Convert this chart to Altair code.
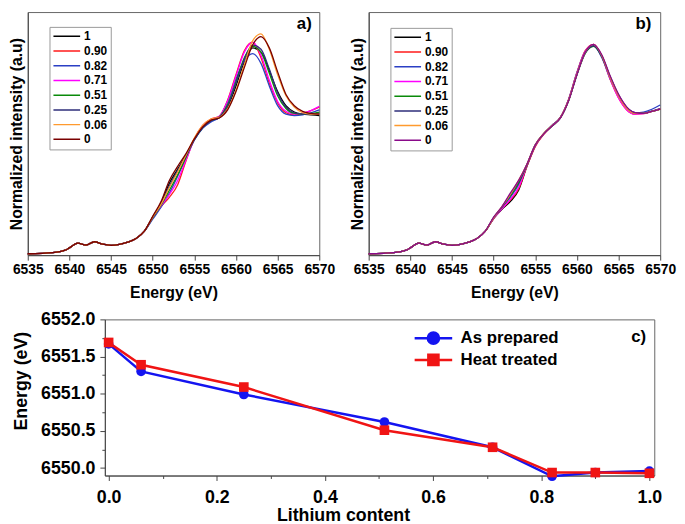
import altair as alt
import pandas as pd

FONT = "Liberation Sans"

# ---------------- XANES spectra (panels a and b) ----------------
energy = [6535, 6538, 6539.5, 6540, 6541, 6542, 6543, 6544, 6545, 6546, 6547, 6548, 6549,
          6550, 6551, 6552, 6553, 6554, 6555, 6556, 6557, 6558, 6559, 6560,
          6561, 6562, 6563, 6564, 6565, 6566, 6567, 6568, 6569, 6570]
pre_edge = [0.000, 0.008, 0.025, 0.042, 0.075, 0.062, 0.085, 0.068, 0.060, 0.066, 0.082, 0.108, 0.160]

samples = ["1", "0.90", "0.82", "0.71", "0.51", "0.25", "0.06", "0"]

# panel a (as prepared), values from 6550 to 6570 eV
a_1 = [0.26, 0.36, 0.50, 0.60, 0.70, 0.81, 0.895, 0.945, 0.965, 1.04, 1.19, 1.36, 1.46, 1.43, 1.30, 1.15, 1.05, 1.005, 0.99, 0.985, 0.98]
a_090 = [0.255, 0.335, 0.40, 0.49, 0.66, 0.815, 0.91, 0.955, 0.975, 1.09, 1.27, 1.44, 1.50, 1.39, 1.21, 1.07, 1.0, 0.985, 0.995, 1.015, 1.04]
a_082 = [0.245, 0.33, 0.43, 0.55, 0.68, 0.805, 0.89, 0.935, 0.97, 1.08, 1.24, 1.37, 1.42, 1.35, 1.19, 1.05, 0.99, 0.98, 0.985, 1.0, 1.02]
a_071 = [0.255, 0.34, 0.42, 0.52, 0.665, 0.81, 0.905, 0.95, 0.975, 1.085, 1.26, 1.43, 1.50, 1.41, 1.23, 1.08, 1.01, 0.99, 0.995, 1.015, 1.045]
a_051 = [0.255, 0.345, 0.45, 0.56, 0.685, 0.81, 0.895, 0.945, 0.97, 1.06, 1.22, 1.39, 1.47, 1.43, 1.28, 1.12, 1.03, 0.995, 0.99, 0.995, 1.005]
a_025 = [0.26, 0.355, 0.48, 0.59, 0.695, 0.81, 0.895, 0.945, 0.968, 1.05, 1.21, 1.38, 1.48, 1.45, 1.31, 1.14, 1.04, 1.0, 0.99, 0.99, 0.995]
a_006 = [0.26, 0.35, 0.47, 0.58, 0.70, 0.82, 0.91, 0.955, 0.968, 1.03, 1.16, 1.34, 1.51, 1.56, 1.45, 1.27, 1.12, 1.04, 1.0, 0.99, 0.99]
a_0 = [0.265, 0.37, 0.52, 0.62, 0.71, 0.815, 0.9, 0.948, 0.963, 1.02, 1.15, 1.32, 1.48, 1.54, 1.46, 1.29, 1.13, 1.05, 1.01, 0.995, 0.99]

# panel b (heat treated), values from 6550 to 6570 eV
b_1 = [0.25, 0.315, 0.37, 0.45, 0.62, 0.765, 0.85, 0.91, 0.965, 1.09, 1.275, 1.43, 1.475, 1.40, 1.25, 1.12, 1.03, 0.995, 0.995, 1.01, 1.025]
b_090 = [0.25, 0.32, 0.38, 0.46, 0.62, 0.76, 0.845, 0.905, 0.965, 1.095, 1.285, 1.44, 1.485, 1.395, 1.235, 1.105, 1.02, 0.99, 0.993, 1.01, 1.025]
b_082 = [0.255, 0.325, 0.40, 0.49, 0.63, 0.77, 0.85, 0.91, 0.965, 1.095, 1.285, 1.435, 1.475, 1.39, 1.24, 1.115, 1.035, 1.0, 1.005, 1.025, 1.055]
b_071 = [0.25, 0.32, 0.385, 0.47, 0.625, 0.765, 0.848, 0.907, 0.963, 1.09, 1.28, 1.435, 1.485, 1.40, 1.24, 1.105, 1.02, 0.99, 0.993, 1.01, 1.03]
b_051 = [0.255, 0.33, 0.41, 0.50, 0.63, 0.77, 0.85, 0.905, 0.962, 1.085, 1.27, 1.42, 1.47, 1.40, 1.255, 1.125, 1.035, 0.995, 0.995, 1.01, 1.025]
b_025 = [0.255, 0.33, 0.42, 0.51, 0.635, 0.77, 0.85, 0.905, 0.962, 1.085, 1.27, 1.425, 1.475, 1.40, 1.25, 1.125, 1.035, 1.0, 0.997, 1.012, 1.03]
b_006 = [0.255, 0.335, 0.42, 0.52, 0.635, 0.772, 0.852, 0.908, 0.963, 1.088, 1.275, 1.43, 1.485, 1.405, 1.25, 1.12, 1.03, 0.995, 0.995, 1.01, 1.025]
b_0 = [0.26, 0.335, 0.43, 0.52, 0.635, 0.772, 0.85, 0.906, 0.962, 1.085, 1.27, 1.43, 1.485, 1.41, 1.26, 1.13, 1.04, 1.0, 0.995, 1.01, 1.025]

colors_a = ["#000000", "#ff1a1a", "#2b3fc4", "#ff00ff", "#0a8a0a", "#2e2e7a", "#ff9a2e", "#7a0000"]
colors_b = ["#000000", "#ff1a1a", "#2b3fc4", "#ff00ff", "#0a8a0a", "#2e2e7a", "#ff9a2e", "#8a0a8a"]

energy_ticks = [6535, 6537.5, 6540, 6542.5, 6545, 6547.5, 6550, 6552.5, 6555,
                6557.5, 6560, 6562.5, 6565, 6567.5, 6570]

# ---------------- Edge energy vs lithium content (panel c) ----------------
lithium = [0.0, 0.06, 0.25, 0.51, 0.71, 0.82, 0.90, 1.0]
as_prepared = [6551.67, 6551.30, 6550.99, 6550.62, 6550.28, 6549.89, 6549.94, 6549.96]
heat_treated = [6551.69, 6551.39, 6551.09, 6550.51, 6550.28, 6549.94, 6549.94, 6549.93]
series_names = ["As prepared", "Heat treated"]
series_colors = ["#1414f0", "#f01414"]
lithium_ticks = [0.0, 0.1, 0.2, 0.3, 0.4, 0.5, 0.6, 0.7, 0.8, 0.9, 1.0]
c_ticks_whole = [6550.0, 6551.0, 6552.0]
c_ticks_half = [6550.5, 6551.5]
c_ticks_minor = [6550.25, 6550.75, 6551.25, 6551.75]


def spectra_frame(curves):
    rows = []
    for s, vals in zip(samples, curves):
        for e, v in zip(energy, pre_edge + vals):
            rows.append({"energy": e, "intensity": v, "sample": s})
    return pd.DataFrame(rows)


def spectrum_panel(curves, colors, tag, tag_x, leg_x, leg_y):
    df = spectra_frame(curves)
    major = "datum.value % 5 === 0"
    x_axis = alt.Axis(
        values=energy_ticks, format="d",
        labelExpr=major + " ? datum.label : ''",
        labelFontSize={"condition": {"test": major, "value": 14}, "value": 0},
        labelOverlap=False, labelFlush=False,
        tickSize={"condition": {"test": major, "value": 5}, "value": 3},
        title="Energy (eV)", titlePadding=8, labelPadding=3, titleFontSize=16,
    )
    y_axis = alt.Axis(title="Normalized intensity (a.u)", labels=False, ticks=False,
                      titlePadding=3, titleFontSize=16)
    lines = alt.Chart(df).mark_line(strokeWidth=1.3, interpolate="monotone").encode(
        x=alt.X("energy:Q", scale=alt.Scale(domain=[6535, 6570], nice=False, zero=False), axis=x_axis),
        y=alt.Y("intensity:Q", scale=alt.Scale(domain=[-0.01, 1.714], nice=False, zero=False), axis=y_axis),
        color=alt.Color(
            "sample:N", sort=samples,
            scale=alt.Scale(domain=samples, range=colors),
            legend=alt.Legend(
                title=None, orient="none", legendX=leg_x, legendY=leg_y,
                symbolType="stroke", symbolSize=729, symbolStrokeWidth=1.5,
                clipHeight=13, rowPadding=1.9, padding=3, symbolOffset=0,
                labelFontSize=12, labelFont=FONT, labelFontWeight="bold", labelColor="black",
                labelOffset=3, strokeColor="#999999", fillColor="white",
            ),
        ),
    )
    label_df = pd.DataFrame({"energy": [tag_x], "intensity": [1.63], "tag": [tag]})
    label = alt.Chart(label_df).mark_text(font=FONT, fontSize=17, fontWeight="bold", color="black").encode(
        x="energy:Q", y="intensity:Q", text="tag:N")
    return alt.layer(lines, label).properties(width=295, height=246)


panel_a = spectrum_panel([a_1, a_090, a_082, a_071, a_051, a_025, a_006, a_0], colors_a, "a)", 6568.2, 22, 15)
panel_b = spectrum_panel([b_1, b_090, b_082, b_071, b_051, b_025, b_006, b_0], colors_b, "b)", 6568.0, 22, 16)

# panel c
c_rows = []
for name, vals in zip(series_names, [as_prepared, heat_treated]):
    for li, en in zip(lithium, vals):
        c_rows.append({"lithium": li, "energy": en, "series": name})
c_df = pd.DataFrame(c_rows)

# legend symbols: a line with the marker in its middle
circle_path = "M-1,0H-0.3M0.3,0H1M-0.3,0A0.3,0.3,0,1,1,0.3,0A0.3,0.3,0,1,1,-0.3,0Z"
square_path = "M-1,0H1M-0.27,-0.27H0.27V0.27H-0.27Z"

x_major = "round(datum.value * 10) % 2 === 0"
cx = alt.X("lithium:Q", scale=alt.Scale(domain=[-0.007, 1.009], nice=False, zero=False),
           axis=alt.Axis(values=lithium_ticks, format=".1f",
                         labelExpr=x_major + " ? datum.label : ''",
                         labelFontSize={"condition": {"test": x_major, "value": 18}, "value": 0},
                         labelOverlap=False, labelFlush=False,
                         tickSize={"condition": {"test": x_major, "value": 5}, "value": 3},
                         title="Lithium content", titlePadding=1, labelPadding=8,
                         titleX=241, titleAlign="center", titleFontSize=18))
c_yscale = alt.Scale(domain=[6549.9, 6552.0], nice=False, zero=False)


def c_y(values, title=None, labels=True, tick=5, domain=False):
    kw = dict(values=values, format=".1f", orient="left", labels=labels, domain=domain,
              labelOverlap=False, labelFlush=False, labelFontSize=18,
              tickSize=tick, labelPadding=5)
    if title:
        kw.update(title=title, titlePadding=10, titleY=62, titleAlign="center", titleFontSize=18)
    else:
        kw.update(title=None)
    return alt.Y("energy:Q", scale=c_yscale, axis=alt.Axis(**kw))


c_legend = alt.Legend(
    title=None, orient="none", legendX=390, legendY=320,
    symbolSize=1444, symbolStrokeWidth=2.5, symbolOpacity=1, clipHeight=20, rowPadding=2,
    padding=0, symbolOffset=0, labelOffset=7,
    labelFontSize=17, labelFont=FONT, labelFontWeight="bold", labelColor="black",
)

c_lines = alt.Chart(c_df).mark_line(strokeWidth=2.5).encode(
    x=cx, y=c_y(c_ticks_whole, title="Energy  (eV)", domain=True),
    color=alt.Color("series:N", scale=alt.Scale(domain=series_names, range=series_colors),
                    sort=series_names, legend=None),
)
c_circles = alt.Chart(c_df).transform_filter(
    alt.datum.series == series_names[0]
).mark_point(filled=True, size=95, opacity=1, shape="circle", color=series_colors[0]).encode(
    x=cx, y=c_y(c_ticks_half))
c_squares = alt.Chart(c_df).transform_filter(
    alt.datum.series == series_names[1]
).mark_point(filled=True, size=95, opacity=1, shape="square", color=series_colors[1]).encode(
    x=cx, y=c_y(c_ticks_minor, labels=False, tick=3))
c_legend_layer = alt.Chart(c_df).mark_point(filled=True, opacity=0, strokeWidth=2.5).encode(
    x=cx, y=alt.Y("energy:Q", scale=c_yscale, axis=None),
    fill=alt.Fill("series:N", scale=alt.Scale(domain=series_names, range=series_colors), sort=series_names, legend=c_legend),
    stroke=alt.Stroke("series:N", scale=alt.Scale(domain=series_names, range=series_colors), sort=series_names, legend=c_legend),
    shape=alt.Shape("series:N", scale=alt.Scale(domain=series_names, range=[circle_path, square_path]), sort=series_names, legend=c_legend),
)
c_tag = alt.Chart(pd.DataFrame({"lithium": [0.98], "energy": [6551.76], "tag": ["c)"]})).mark_text(
    font=FONT, fontSize=17, fontWeight="bold", color="black").encode(
    x="lithium:Q", y=alt.Y("energy:Q", scale=c_yscale, axis=None), text="tag:N")
panel_c = alt.layer(c_lines, c_circles, c_squares, c_legend_layer, c_tag).resolve_axis(
    y="independent").properties(width=556, height=158)

spacer = alt.Chart(pd.DataFrame({"v": [0]})).mark_point(opacity=0).encode(
    x=alt.value(0), y=alt.value(0)).properties(width=78, height=158,
                                               view=alt.ViewBackground(stroke="transparent"))

top = alt.hconcat(panel_a, panel_b, spacing=50, bounds="flush").resolve_scale(color="independent")
bottom = alt.hconcat(spacer, panel_c, spacing=0, bounds="flush")

chart = alt.vconcat(top, bottom, spacing=8).resolve_scale(color="independent").properties(padding=0).configure(
    font=FONT
).configure_view(
    stroke="#666666", strokeWidth=1
).configure_axis(
    labelFont=FONT, labelFontWeight="bold", labelColor="black",
    titleFont=FONT, titleFontWeight="bold", titleColor="black",
    domainColor="#444444", tickColor="#444444", grid=False,
)

chart.save("out.html", embed_options={"renderer": "svg", "actions": False})
